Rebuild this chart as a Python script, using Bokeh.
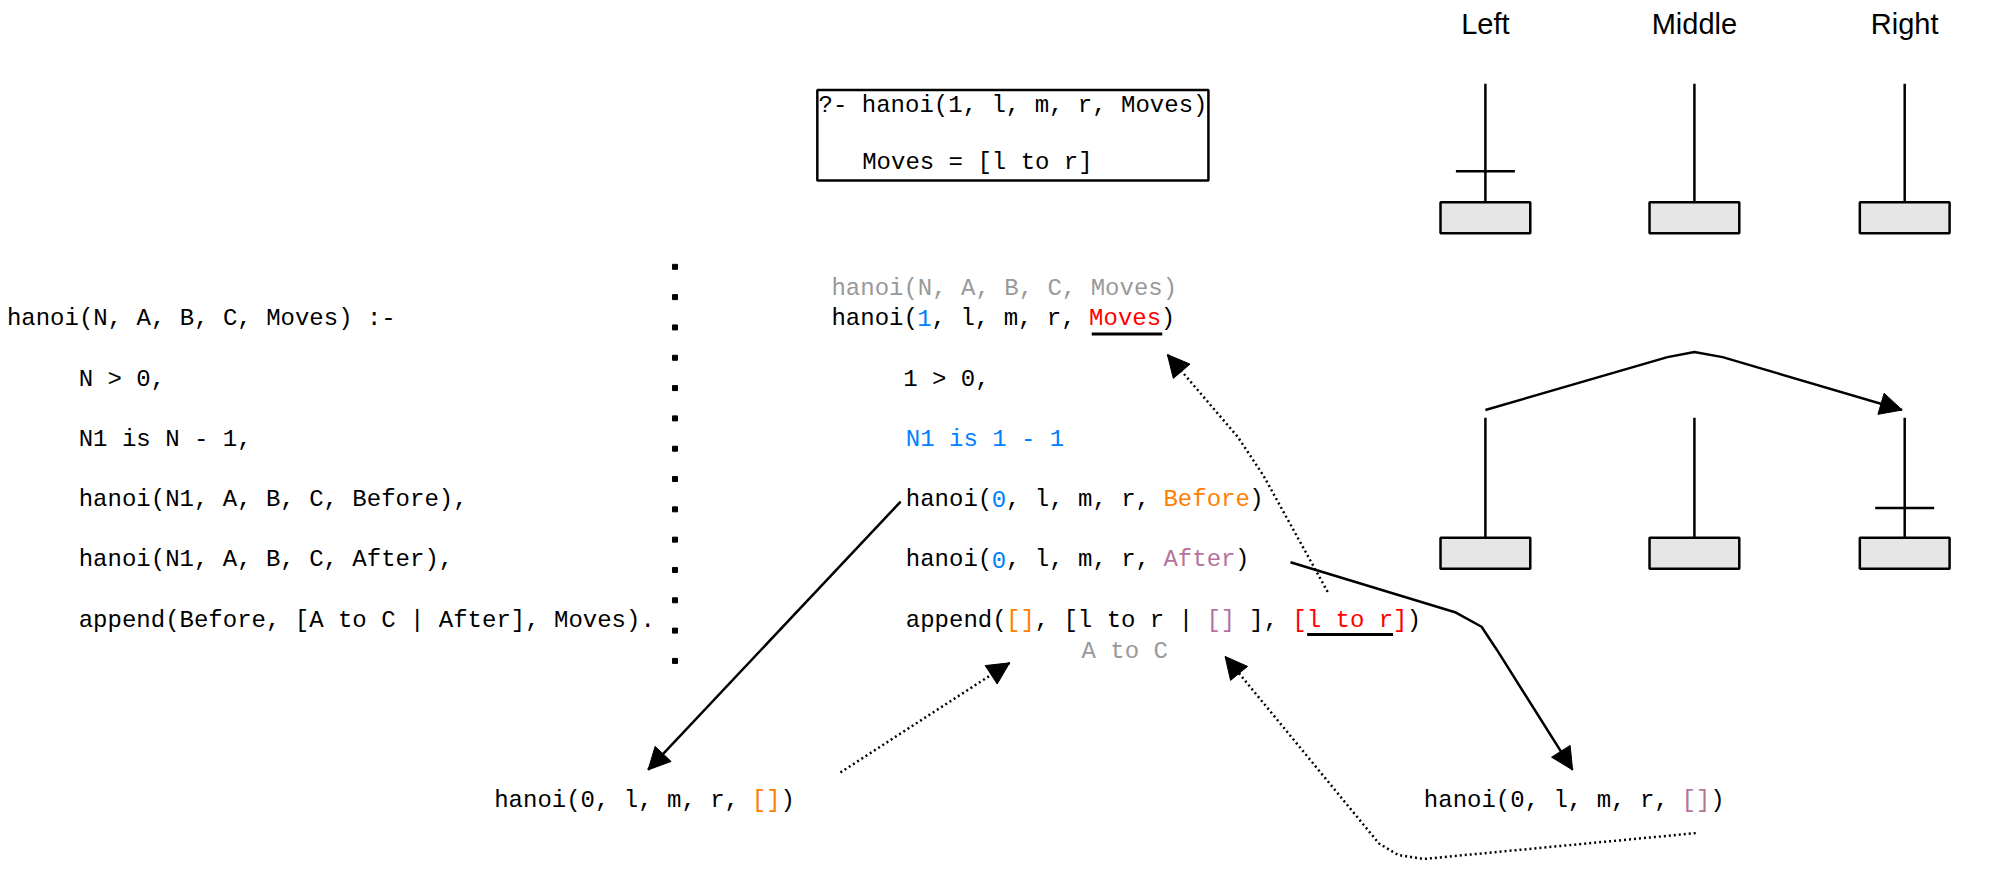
from bokeh.plotting import figure
from bokeh.models import Range1d, Arrow, NormalHead
from bokeh.core.properties import value
from bokeh.embed import file_html
from bokeh.resources import INLINE

S = 1.29  # reference drawn at this scale
BLACK, GRAY, BLUE, ORANGE, PURPLE, RED = "#000000", "#999999", "#007FFF", "#FF8000", "#B5739D", "#FF0000"
FONT = "Liberation Mono"
CW = 0.6 * 24  # monospace char width in px

# program text: (x, y, [(text, colour), ...])
rule_lines = [
    (5, 248, [("hanoi(N, A, B, C, Moves) :-", BLACK)]),
    (61, 295, [("N > 0,", BLACK)]),
    (61, 342, [("N1 is N - 1,", BLACK)]),
    (61, 388, [("hanoi(N1, A, B, C, Before),", BLACK)]),
    (61, 435, [("hanoi(N1, A, B, C, After),", BLACK)]),
    (61, 482, [("append(Before, [A to C | After], Moves).", BLACK)]),
]
trace_lines = [
    (648, 225, [("hanoi(N, A, B, C, Moves)", GRAY)]),
    (648, 248, [("hanoi(", BLACK), ("1", BLUE), (", l, m, r, ", BLACK), ("Moves", RED), (")", BLACK)]),
    (704, 295, [("1 > 0,", BLACK)]),
    (706, 342, [("N1 is 1 - 1", BLUE)]),
    (706, 388, [("hanoi(", BLACK), ("0", BLUE), (", l, m, r, ", BLACK), ("Before", ORANGE), (")", BLACK)]),
    (706, 435, [("hanoi(", BLACK), ("0", BLUE), (", l, m, r, ", BLACK), ("After", PURPLE), (")", BLACK)]),
    (706, 482, [("append(", BLACK), ("[]", ORANGE), (", [l to r | ", BLACK), ("[]", PURPLE),
                (" ], ", BLACK), ("[l to r]", RED), (")", BLACK)]),
    (843, 506, [("A to C", GRAY)]),
    (385, 622, [("hanoi(0, l, m, r, ", BLACK), ("[]", ORANGE), (")", BLACK)]),
    (1110, 622, [("hanoi(0, l, m, r, ", BLACK), ("[]", PURPLE), (")", BLACK)]),
    (638, 83, [("?- hanoi(1, l, m, r, Moves)", BLACK)]),
    (672, 127, [("Moves = [l to r]", BLACK)]),
]
underlines = [(851, 906, 260), (1019, 1086, 493)]

peg_x = [1158, 1321, 1485]
peg_names = ["Left", "Middle", "Right"]
tower_rows = [(66, 158), (325, 418)]  # peg top, base top
disks = [(0, 0, 134), (1, 2, 395)]   # (row, peg, y)

# arrows: (points, dashed)
arrows = [
    ([(702, 390), (505, 598)], False),
    ([(655, 600), (787, 515)], True),
    ([(1035, 460), (985, 370), (965, 340), (910, 276)], True),
    ([(1006, 437), (1135, 476), (1155, 487), (1167, 505), (1226, 598)], False),
    ([(1322, 647), (1110, 667), (1090, 664), (1075, 655), (955, 510)], True),
    ([(1158, 319), (1300, 278), (1321, 274), (1343, 278), (1483, 319)], False),
]

p = figure(width=1997, height=869, output_backend="svg", toolbar_location=None,
           x_range=Range1d(0, 2009), y_range=Range1d(871, 2))
p.axis.visible = False
p.grid.visible = False
p.outline_line_color = None
p.min_border = 0

def s(v):
    return v * S

for x0, y0, parts in rule_lines + trace_lines:
    n = 0
    for txt, col in parts:
        lead = len(txt) - len(txt.lstrip(" "))
        p.text([s(x0) + (n + lead) * CW], [s(y0)], text=[txt.strip(" ")], text_color=col,
               text_font=value(FONT), text_font_size="24px", text_baseline="middle", text_align="left")
        n += len(txt)

for a, b, y in underlines:
    p.line([s(a), s(b)], [s(y), s(y)], line_color=BLACK, line_width=3)

# query box
p.quad(left=s(637), right=s(942), top=s(71), bottom=s(141), fill_color=None, line_color=BLACK, line_width=2.5)

# separator dots
p.scatter([s(526)] * 14, [s(208 + 23.5 * i) for i in range(14)], marker="square", size=5,
          color=BLACK)

# towers
for px, name in zip(peg_x, peg_names):
    p.text([s(px)], [s(20)], text=[name], text_font=value("Liberation Sans"), text_font_size="29px",
           text_align="center", text_baseline="middle", text_color=BLACK)
for top, base in tower_rows:
    for px in peg_x:
        p.line([s(px), s(px)], [s(top), s(base)], line_color=BLACK, line_width=2.5)
        p.quad(left=s(px - 35), right=s(px + 35), top=s(base), bottom=s(base + 24),
               fill_color="#E6E6E6", line_color=BLACK, line_width=2.5)
for row, peg, y in disks:
    px = peg_x[peg]
    p.line([s(px - 23), s(px + 23)], [s(y), s(y)], line_color=BLACK, line_width=2.5)

for pts, dashed in arrows:
    xs = [s(a) for a, _ in pts]
    ys = [s(b) for _, b in pts]
    dash = "2 3" if dashed else "solid"
    p.line(xs, ys, line_color=BLACK, line_width=2.5, line_dash=dash)
    p.add_layout(Arrow(end=NormalHead(size=22, fill_color=BLACK, line_color=BLACK),
                       x_start=xs[-2], y_start=ys[-2], x_end=xs[-1], y_end=ys[-1],
                       line_alpha=0))

open("out.html", "w").write(file_html(p, INLINE))
